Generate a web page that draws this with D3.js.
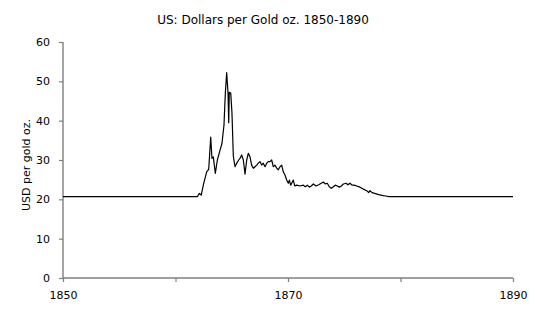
<!DOCTYPE html>
<html>
<head>
<meta charset="utf-8">
<script src="https://cdn.jsdelivr.net/npm/d3@7"></script>
<style>
  body { margin: 0; background: #fff; }
  text { font-family: "DejaVu Sans", Verdana, sans-serif; fill: #000; }
</style>
</head>
<body>
<div id="vis"></div>
<script>
// gold price in greenback dollars per oz (fractional years)
var years = [1850, 1861.94, 1862.12, 1862.29, 1862.47, 1862.77, 1862.95, 1863.13, 1863.24, 1863.36,
  1863.54, 1863.72, 1863.96, 1864.13, 1864.31, 1864.43, 1864.55, 1864.67, 1864.73, 1864.78,
  1864.91, 1865.02, 1865.14, 1865.29, 1865.44, 1865.62, 1865.73, 1865.88, 1866.03, 1866.18,
  1866.33, 1866.47, 1866.62, 1866.77, 1866.92, 1867.07, 1867.22, 1867.36, 1867.51, 1867.66,
  1867.80, 1867.96, 1868.11, 1868.25, 1868.40, 1868.55, 1868.69, 1868.84, 1869.00, 1869.14,
  1869.29, 1869.44, 1869.58, 1869.73, 1869.88, 1870.03, 1870.12, 1870.24, 1870.47, 1870.60,
  1870.77, 1871.07, 1871.36, 1871.54, 1871.72, 1871.89, 1872.07, 1872.25, 1872.49, 1872.73,
  1872.96, 1873.14, 1873.32, 1873.49, 1873.67, 1873.85, 1874.03, 1874.20, 1874.38, 1874.56,
  1874.74, 1874.92, 1875.16, 1875.33, 1875.51, 1875.69, 1875.87, 1876.11, 1876.40, 1876.69,
  1877.00, 1877.17, 1877.29, 1877.47, 1877.71, 1878.06, 1878.36, 1878.65, 1879.00, 1890];
var prices = [20.67, 20.67, 21.5, 21.1, 23.6, 27.0, 27.6, 35.8, 30.4, 30.8,
  26.6, 30.0, 32.5, 34.2, 38.9, 47.0, 52.2, 47.0, 39.5, 47.2,
  47.0, 41.9, 31.0, 28.3, 29.2, 30.0, 30.4, 31.3, 30.0, 26.4,
  30.0, 31.7, 30.8, 28.7, 27.9, 28.3, 28.7, 29.2, 29.6, 28.7,
  29.2, 28.3, 29.2, 29.6, 29.6, 30.0, 28.3, 28.7, 27.9, 27.5,
  28.3, 28.7, 27.0, 26.2, 24.9, 24.1, 24.9, 23.6, 24.9, 23.4,
  23.6, 23.4, 23.6, 23.2, 23.6, 23.1, 23.4, 23.9, 23.4, 23.7,
  24.1, 24.4, 23.9, 24.1, 23.2, 22.8, 23.2, 23.6, 23.4, 23.1,
  23.4, 23.9, 24.1, 23.7, 24.1, 23.6, 23.6, 23.4, 23.1, 22.6,
  22.2, 21.7, 22.2, 21.7, 21.5, 21.2, 21.0, 20.85, 20.67, 20.67];

var xTicks = [1850, 1860, 1870, 1880, 1890];
var xTickLabels = ["1850", "", "1870", "", "1890"];
var yTicks = [0, 10, 20, 30, 40, 50, 60];

var width = 535, height = 320;
var margin = {top: 42, right: 22, bottom: 42, left: 63};

var svg = d3.select("#vis").append("svg")
  .attr("width", width)
  .attr("height", height);

var x = d3.scaleLinear()
  .domain([1850, 1890])
  .range([margin.left, width - margin.right]);

var y = d3.scaleLinear()
  .domain([0, 60])
  .range([height - margin.bottom, margin.top]);

var xAxis = d3.axisBottom(x)
  .tickValues(xTicks)
  .tickSize(4)
  .tickPadding(9)
  .tickFormat(function (d, i) { return xTickLabels[i]; });

var yAxis = d3.axisLeft(y)
  .tickValues(yTicks)
  .tickSize(4)
  .tickPadding(9);

var xg = svg.append("g")
  .attr("transform", "translate(0," + y(0) + ")")
  .call(xAxis);

var yg = svg.append("g")
  .attr("transform", "translate(" + x(1850) + ",0)")
  .call(yAxis);

[xg, yg].forEach(function (g) {
  g.select(".domain").attr("stroke", "#7f7f7f").attr("stroke-width", 1.4);
  g.selectAll(".tick line").attr("stroke", "#7f7f7f").attr("stroke-width", 1.2);
  g.selectAll(".tick text")
    .attr("font-size", 11)
    .attr("font-family", "DejaVu Sans, Verdana, sans-serif")
    .attr("fill", "#000");
});
// drop the outer tick ends of the domain paths
xg.select(".domain").attr("d", "M" + x(1850) + ",0H" + x(1890));
yg.select(".domain").attr("d", "M0," + y(0) + "V" + y(60));

var line = d3.line()
  .x(function (d, i) { return x(years[i]); })
  .y(function (d) { return y(d); });

svg.append("path")
  .datum(prices)
  .attr("fill", "none")
  .attr("stroke", "#000")
  .attr("stroke-width", 1.2)
  .attr("stroke-linejoin", "round")
  .attr("d", line);

svg.append("text")
  .attr("x", 263)
  .attr("y", 24)
  .attr("text-anchor", "middle")
  .attr("font-size", 12)
  .text("US: Dollars per Gold oz. 1850-1890");

svg.append("text")
  .attr("transform", "translate(26," + 165 + ") rotate(-90)")
  .attr("text-anchor", "middle")
  .attr("dy", "0.35em")
  .attr("font-size", 11)
  .text("USD per gold oz.");
</script>
</body>
</html>
